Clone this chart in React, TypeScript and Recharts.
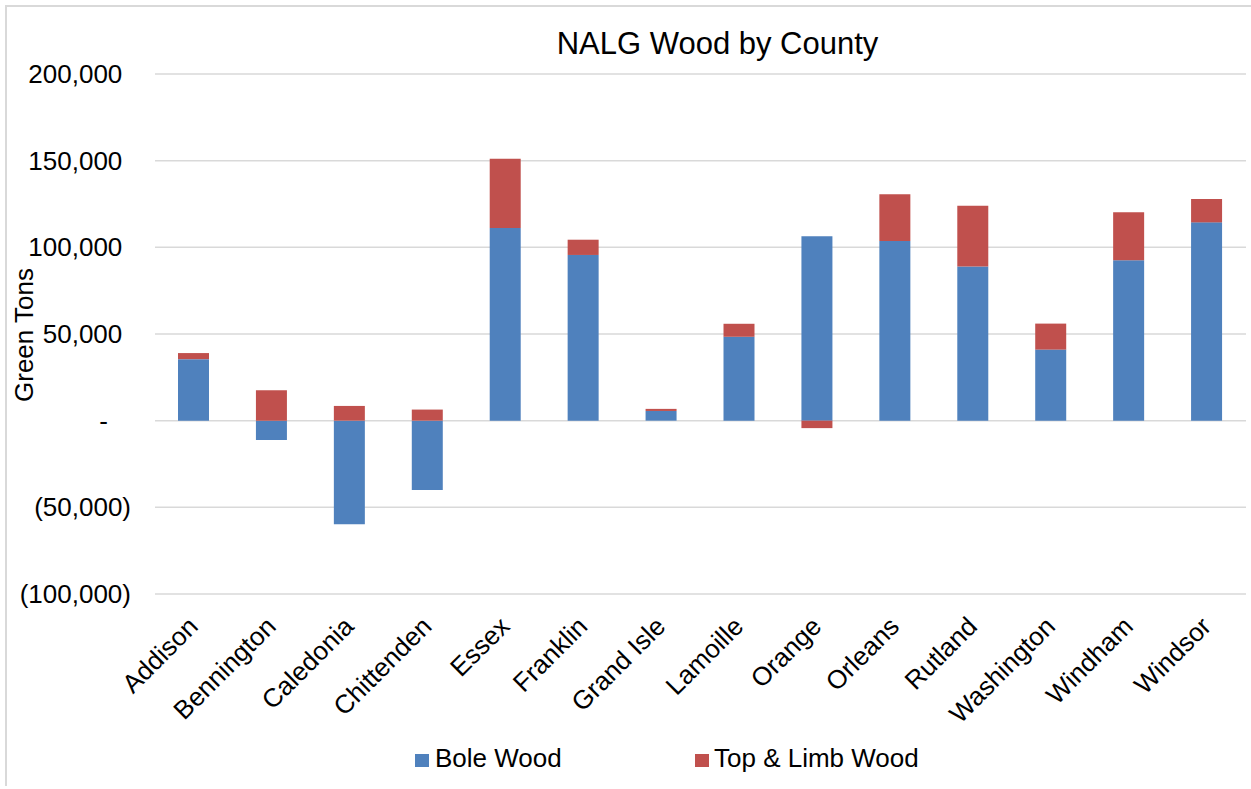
import React from 'react';
import { BarChart, Bar, XAxis, YAxis, CartesianGrid } from 'recharts';

const counties = [
  'Addison', 'Bennington', 'Caledonia', 'Chittenden', 'Essex', 'Franklin', 'Grand Isle',
  'Lamoille', 'Orange', 'Orleans', 'Rutland', 'Washington', 'Windham', 'Windsor',
];
const boleWood = [
  35500, -11200, -59700, -40000, 111200, 95600, 5600,
  48400, 106400, 103600, 89000, 41000, 92600, 114400,
];
const topLimbWood = [
  3500, 17600, 8500, 6400, 39900, 8800, 1200,
  7500, -4300, 27000, 35000, 15000, 27600, 13500,
];
const yTicks = [-100000, -50000, 0, 50000, 100000, 150000, 200000];

const data = counties.map((county, i) => ({
  county,
  bole: boleWood[i],
  topLimb: topLimbWood[i],
}));

const FONT = '"Liberation Sans", Arial, sans-serif';
const BLUE = '#4f81bd';
const RED = '#c0504d';

// accounting style: 12,345 / (12,345) / -
const fmt = (v: number) => {
  if (v === 0) return '-';
  const s = Math.abs(v).toLocaleString('en-US');
  return v < 0 ? `(${s})` : s;
};

const YTick = (props: any) => {
  const { x, y, payload } = props;
  const v = payload.value as number;
  const dx = v < 0 ? 0 : v === 0 ? -23 : -8.7;
  return (
    <text x={x + dx} y={y} dy={9} textAnchor="end" fontSize={26} fontFamily={FONT} fill="#000">
      {fmt(v)}
    </text>
  );
};

const XTick = (props: any) => {
  const { x, y, payload } = props;
  const tx = x + 5.5;
  return (
    <text
      x={tx}
      y={y}
      textAnchor="end"
      fontSize={26}
      fontFamily={FONT}
      fill="#000"
      transform={`rotate(-45, ${tx}, ${y})`}
    >
      {payload.value}
    </text>
  );
};

export default function App() {
  return (
    <div
      style={{
        position: 'absolute',
        left: 0,
        top: 0,
        width: 1251,
        height: 789,
        background: '#fff',
        overflow: 'hidden',
        fontFamily: FONT,
      }}
    >
      {/* chart frame */}
      <div
        style={{
          position: 'absolute',
          left: 5,
          top: 5,
          width: 1300,
          height: 779,
          borderLeft: '2px solid #d9d9d9',
          borderTop: '2px solid #d9d9d9',
        }}
      />
      <div
        style={{
          position: 'absolute',
          left: 717.5,
          top: 28,
          transform: 'translateX(-50%)',
          fontSize: 31,
          lineHeight: 1,
          whiteSpace: 'nowrap',
          color: '#000',
        }}
      >
        NALG Wood by County
      </div>
      <div
        style={{
          position: 'absolute',
          left: 24,
          top: 334.5,
          transform: 'translate(-50%, -50%) rotate(-90deg)',
          fontSize: 26,
          lineHeight: 1,
          whiteSpace: 'nowrap',
          color: '#000',
        }}
      >
        Green Tons
      </div>
      <div style={{ position: 'absolute', left: 0, top: 0 }}>
        <BarChart
          width={1251}
          height={789}
          data={data}
          stackOffset="sign"
          barSize={31}
          margin={{ top: 74, right: 5, bottom: 0, left: 0 }}
        >
          <CartesianGrid vertical={false} stroke="#d9d9d9" strokeWidth={1.5} />
          <XAxis
            dataKey="county"
            height={195}
            axisLine={false}
            tickLine={false}
            tickSize={0}
            tickMargin={34}
            interval={0}
            tick={<XTick />}
          />
          <YAxis
            width={155}
            domain={[-100000, 200000]}
            ticks={yTicks}
            axisLine={false}
            tickLine={false}
            tickSize={0}
            tickMargin={24}
            tick={<YTick />}
          />
          <Bar dataKey="bole" name="Bole Wood" stackId="a" fill={BLUE} isAnimationActive={false} />
          <Bar dataKey="topLimb" name="Top & Limb Wood" stackId="a" fill={RED} isAnimationActive={false} />
        </BarChart>
      </div>
      {/* legend */}
      <div style={{ position: 'absolute', left: 415, top: 753.5, width: 14, height: 13, background: BLUE }} />
      <div style={{ position: 'absolute', left: 435, top: 745, fontSize: 26, lineHeight: 1, whiteSpace: 'nowrap' }}>
        Bole Wood
      </div>
      <div style={{ position: 'absolute', left: 695, top: 753.5, width: 14, height: 13, background: RED }} />
      <div style={{ position: 'absolute', left: 714, top: 745, fontSize: 26, lineHeight: 1, whiteSpace: 'nowrap' }}>
        Top &amp; Limb Wood
      </div>
    </div>
  );
}
